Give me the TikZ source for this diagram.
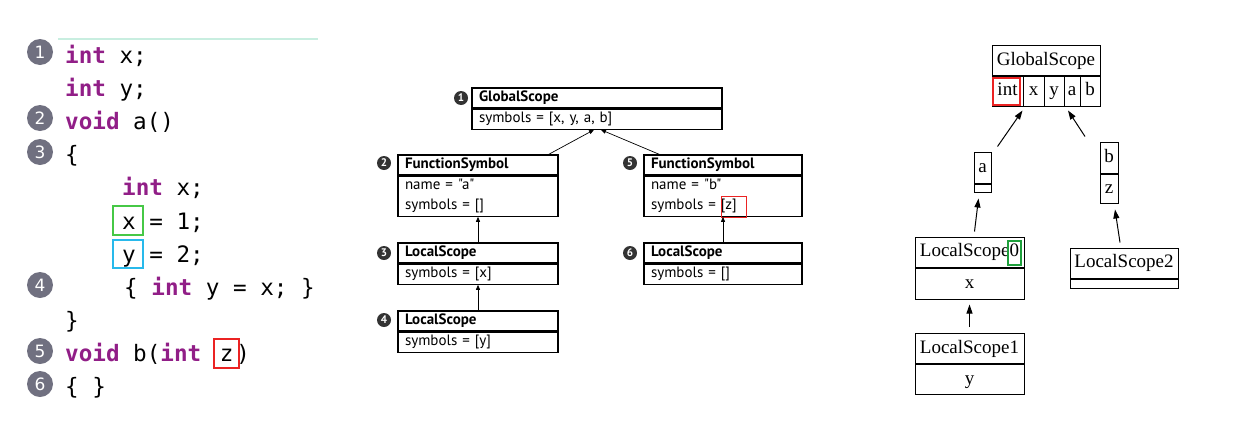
\documentclass[tikz,border=0pt]{standalone}
\usepackage{fontspec}
\setmainfont{Liberation Serif}
\newfontfamily\codefont{DejaVu Sans Mono}
\newfontfamily\umlfont{PT Sans}
\newfontfamily\numfont{DejaVu Sans}
\usetikzlibrary{positioning,arrows.meta}
\definecolor{kwpurple}{RGB}{145,30,135}
\definecolor{numgray}{RGB}{112,112,128}
\definecolor{boxgreen}{RGB}{70,200,70}
\definecolor{boxblue}{RGB}{40,185,235}
\definecolor{boxred}{RGB}{235,35,35}
\definecolor{darkgreen}{RGB}{30,160,60}
\definecolor{topline}{RGB}{200,238,224}
\newcommand{\kw}[1]{\textcolor{kwpurple}{\bfseries #1}}

\begin{document}
\begin{tikzpicture}[x=1pt, y=-1pt,
  code/.style={anchor=base west, inner sep=0pt, font=\codefont\fontsize{22.6}{26}\selectfont},
  num/.style={circle, fill=numgray, text=white, minimum size=26pt, inner sep=0pt, font=\numfont\fontsize{17}{17}\selectfont},
  hl/.style={line width=1.3pt},
  umlhead/.style={draw, line width=1.2pt, minimum height=20pt, inner ysep=0pt, inner xsep=7pt, align=left, font=\umlfont\bfseries\fontsize{15}{17}\selectfont},
  umlbody/.style={draw, line width=1.2pt, minimum height=20pt, inner ysep=2pt, inner xsep=7pt, align=left, font=\umlfont\fontsize{15}{20}\selectfont},
  bnum/.style={circle, fill=black!80, text=white, minimum size=14pt, inner sep=0pt, font=\umlfont\bfseries\fontsize{11}{11}\selectfont},
  umlarrow/.style={-{Triangle[length=5pt,width=4pt]}, line width=0.7pt},
  rec/.style={draw, line width=1pt, minimum height=30pt, inner sep=0pt, text height=13pt, text depth=4pt, font=\fontsize{19}{19}\selectfont},
  recempty/.style={draw, line width=1pt, inner sep=0pt},
  gvarrow/.style={-{Triangle[length=9pt,width=6pt]}, line width=1pt}
]
\useasboundingbox (0,0) rectangle (1257,426);

\draw[topline, line width=2pt] (58,39) -- (318,39);

\node[num] (n1) at (40,52) {1};
\node[num] (n2) at (40,118) {2};
\node[num] (n3) at (40,152) {3};
\node[num] (n4) at (40,285) {4};
\node[num] (n5) at (40,351) {5};
\node[num] (n6) at (40,384) {6};

\node[code] (l1) at (65,63) {\kw{int} x;};
\node[code] (l2) at (65,96) {\kw{int} y;};
\node[code] (l3) at (65,129) {\kw{void} a()};
\node[code] (l4) at (65,162) {\{};
\node[code] (l5) at (122,195) {\kw{int} x;};
\node[code] (l6) at (122,229) {x = 1;};
\node[code] (l7) at (122,262) {y = 2;};
\node[code] (l8) at (124,295) {\{ \kw{int} y = x; \}};
\node[code] (l9) at (65,328) {\}};
\node[code] (l10) at (65,361) {\kw{void} b(\kw{int} \kern5pt z\kern3pt)};
\node[code] (l11) at (65,394) {\{ \}};

\draw[hl, boxgreen] (113,206) rectangle (143,235);
\draw[hl, boxblue] (113,240) rectangle (143,268);
\draw[hl, boxred] (214,339) rectangle (239,368);

\node[umlhead, text width=236pt] (gshead) at (597,98) {GlobalScope};
\node[umlbody, text width=236pt, below=0pt of gshead] (gsbody) {symbols = [x, y, a, b]};
\node[umlhead, text width=146pt] (fahead) at (478,165) {FunctionSymbol};
\node[umlbody, text width=146pt, minimum height=40pt, below=0pt of fahead] (fabody) {name = "a"\\symbols = []};
\node[umlhead, text width=144pt] (fbhead) at (723,165) {FunctionSymbol};
\node[umlbody, text width=144pt, minimum height=40pt, below=0pt of fbhead] (fbbody) {name = "b"\\symbols = [z]};
\node[umlhead, text width=146pt] (ls3head) at (478,253) {LocalScope};
\node[umlbody, text width=146pt, below=0pt of ls3head] (ls3body) {symbols = [x]};
\node[umlhead, text width=146pt] (ls4head) at (478,321) {LocalScope};
\node[umlbody, text width=146pt, below=0pt of ls4head] (ls4body) {symbols = [y]};
\node[umlhead, text width=144pt] (ls6head) at (723,253) {LocalScope};
\node[umlbody, text width=144pt, below=0pt of ls6head] (ls6body) {symbols = []};

\node[bnum] (b1) at (461,98) {1};
\node[bnum] (b2) at (384,163) {2};
\node[bnum] (b3) at (384,253) {3};
\node[bnum] (b4) at (384,320) {4};
\node[bnum] (b5) at (630,163) {5};
\node[bnum] (b6) at (630,253) {6};

\draw[boxred, line width=0.8pt] (721,196) rectangle (746,217);

\draw[umlarrow] ([shift={(-10,0)}]fahead.north east) -- ([shift={(-3,0)}]gsbody.south);
\draw[umlarrow] ([shift={(16,0)}]fbhead.north west) -- ([shift={(4,0)}]gsbody.south);
\draw[umlarrow] (ls3head.north) -- (fabody.south);
\draw[umlarrow] (ls4head.north) -- (ls3body.south);
\draw[umlarrow] (ls6head.north) -- (fbbody.south);

\node[rec, minimum width=108pt] (gshdr) at (1046,60.5) {GlobalScope};
\node[rec, minimum width=31pt] (gint) at (1007.5,91) {int};
\node[rec, minimum width=21pt] (gx) at (1033.5,91) {x};
\node[rec, minimum width=20pt] (gy) at (1054,91) {y};
\node[rec, minimum width=16pt] (ga) at (1072,91) {a};
\node[rec, minimum width=20pt] (gb) at (1090,91) {b};
\node[draw=boxred, line width=2.2pt, minimum width=27pt, minimum height=27pt] (intmark) at (1006.5,91.5) {};

\node[rec, minimum width=17pt, minimum height=31pt] (fa) at (982.5,167.5) {a};
\node[recempty, minimum width=17pt, minimum height=8pt, below=0pt of fa] (faempty) {};
\node[rec, minimum width=18pt, minimum height=31pt] (fb) at (1109,157.5) {b};
\node[rec, minimum width=18pt, minimum height=29pt, below=0pt of fb] (fz) {z};

\node[rec, minimum width=109pt] (ls0) at (969.5,252) {LocalScope0};
\node[rec, minimum width=109pt, minimum height=31pt, below=0pt of ls0] (ls0x) {x};
\node[draw=darkgreen, line width=2pt, minimum width=13pt, minimum height=24pt] (zeromark) at (1014.5,253) {};
\node[rec, minimum width=109pt] (ls1) at (969.5,348.5) {LocalScope1};
\node[rec, minimum width=109pt, minimum height=30pt, below=0pt of ls1] (ls1y) {y};
\node[rec, minimum width=108pt] (ls2) at (1124,263) {LocalScope2};
\node[recempty, minimum width=108pt, minimum height=9pt, below=0pt of ls2] (ls2empty) {};

\draw[gvarrow] ([shift={(5,-5)}]ls0.north) -- ([shift={(-4,6)}]faempty.south);
\draw[gvarrow] ([shift={(15,-5)}]fa.north) -- ([shift={(-1,4)}]gint.south east);
\draw[gvarrow] ([shift={(-24,-5)}]fb.north) -- ([shift={(-4,4)}]ga.south);
\draw[gvarrow] ([shift={(-4,-5)}]ls2.north) -- ([shift={(6,6)}]fz.south);
\draw[gvarrow] ([shift={(0,-6)}]ls1.north) -- ([shift={(0,5)}]ls0x.south);
\end{tikzpicture}
\end{document}
